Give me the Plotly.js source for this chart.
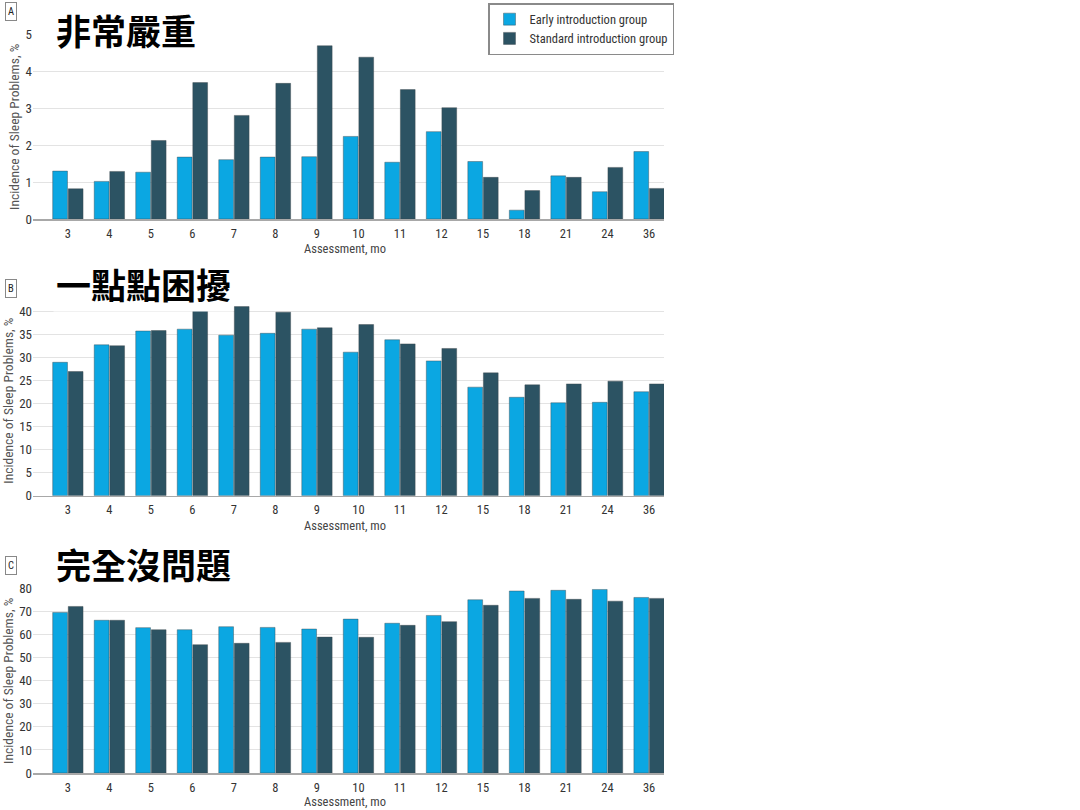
<!DOCTYPE html>
<html>
<head>
<meta charset="utf-8">
<script src="https://cdn.plot.ly/plotly-3.0.1.min.js"></script>
<style>html,body{margin:0;padding:0;background:#fff;}#chart{width:1080px;height:810px;}</style>
</head>
<body>
<div id="chart"></div>
<script>
// ---- data ----
const months = ['3','4','5','6','7','8','9','10','11','12','15','18','21','24','36'];
const seriesNames = ['Early introduction group', 'Standard introduction group'];
const panelTitles = ['非常嚴重', '一點點困擾', '完全沒問題'];
const panelLetters = ['A', 'B', 'C'];

const severeEarly    = [1.30, 1.02, 1.27, 1.68, 1.61, 1.68, 1.69, 2.24, 1.54, 2.37, 1.56, 0.24, 1.17, 0.74, 1.83];
const severeStandard = [0.82, 1.29, 2.13, 3.70, 2.81, 3.68, 4.70, 4.39, 3.51, 3.02, 1.13, 0.77, 1.13, 1.40, 0.83];

const smallEarly     = [29.0, 32.8, 35.8, 36.2, 34.9, 35.3, 36.2, 31.2, 33.9, 29.3, 23.6, 21.4, 20.2, 20.3, 22.6];
const smallStandard  = [27.0, 32.6, 35.9, 40.9, 41.1, 39.9, 36.5, 37.2, 33.0, 32.0, 26.7, 24.1, 24.3, 24.9, 24.3];

const noneEarly      = [69.7, 66.3, 63.1, 62.2, 63.5, 63.2, 62.5, 66.8, 65.0, 68.4, 75.2, 79.0, 79.3, 79.7, 76.2];
const noneStandard   = [72.3, 66.3, 62.2, 55.7, 56.3, 56.7, 59.0, 58.9, 64.1, 65.7, 72.8, 75.8, 75.4, 74.6, 75.8];

const yTitle = 'Incidence of Sleep Problems, %';
const xTitle = 'Assessment, mo';

// ---- styling / layout ----
const W = 1080, H = 810;
const colors = ['#0ba7e2', '#2c5363'];
const condensed = '"Liberation Sans Narrow", "Arial Narrow", "Roboto Condensed", "DejaVu Sans Condensed", sans-serif';
const cjk = '"Noto Sans CJK TC", "Noto Sans CJK SC", sans-serif';

const panels = [
  {early: severeEarly, standard: severeStandard, yr: [0, 5],    dt: 1,  px0: 219,   pxTop: 34.7,  xTitleY: 248.5},
  {early: smallEarly,  standard: smallStandard,  yr: [0, 41.3], dt: 5,  px0: 495.7, pxTop: 305.7, xTitleY: 525},
  {early: noneEarly,   standard: noneStandard,   yr: [0, 80],   dt: 10, px0: 773,   pxTop: 588.7, xTitleY: 801}
];
const titleY = [30, 283, 563];
const letterY = [11, 289, 565];

const xLeft = 33, xRight = 664;
const traces = [];
const layout = {
  width: W, height: H,
  margin: {l: 0, r: 0, t: 0, b: 0},
  paper_bgcolor: '#fff', plot_bgcolor: '#fff',
  barmode: 'group', bargap: 0.25, bargroupgap: 0.05,
  font: {family: condensed, color: '#333', size: 12},
  showlegend: true,
  legend: {
    x: 488 / W, y: 1 - 3 / H, xanchor: 'left', yanchor: 'top',
    bgcolor: '#fff', bordercolor: '#8a8a8a', borderwidth: 1.5,
    font: {family: condensed, size: 12.5, color: '#333'},
    tracegroupgap: 0, itemwidth: 30
  },
  annotations: []
};

panels.forEach((p, i) => {
  const sfx = i === 0 ? '' : String(i + 1);
  const xa = 'x' + sfx, ya = 'y' + sfx;
  [p.early, p.standard].forEach((vals, k) => {
    traces.push({
      type: 'bar', x: months, y: vals, name: seriesNames[k],
      xaxis: xa, yaxis: ya,
      marker: {color: colors[k], line: {color: 'rgba(60,70,75,0.7)', width: 0.6}},
      showlegend: i === 0, legendgroup: 'g' + k,
      hoverinfo: 'x+y+name'
    });
  });
  layout['xaxis' + sfx] = {
    domain: [xLeft / W, xRight / W],
    anchor: ya, type: 'category',
    range: [-0.84, 14.36],
    showline: true, linecolor: '#a8a8a8', linewidth: 1.5,
    ticks: '', showgrid: false, zeroline: false,
    ticklabelstandoff: 2,
    tickfont: {family: condensed, size: 12.5, color: '#333'}
  };
  layout['yaxis' + sfx] = {
    domain: [1 - p.px0 / H, 1 - p.pxTop / H],
    anchor: xa, range: p.yr, dtick: p.dt,
    showline: false, ticks: '', zeroline: false,
    showgrid: true, gridcolor: '#e3e3e3', gridwidth: 1,
    tickfont: {family: condensed, size: 13, color: '#333'},
    title: {text: yTitle, font: {family: condensed, size: 13.5, color: '#555'}, standoff: 2}
  };
  // x-axis title
  layout.annotations.push({
    xref: 'paper', yref: 'paper', x: 345 / W, y: 1 - p.xTitleY / H,
    xanchor: 'center', yanchor: 'middle', showarrow: false,
    text: xTitle,
    font: {family: condensed, size: 12.5, color: '#444'}
  });
  // big Chinese panel title
  layout.annotations.push({
    xref: 'paper', yref: 'paper', x: 53 / W, y: 1 - titleY[i] / H,
    xanchor: 'left', yanchor: 'middle', showarrow: false,
    text: '<b>' + panelTitles[i] + '</b>',
    font: {family: cjk, size: 35, color: '#000'},
    bgcolor: '#fff', borderpad: 2
  });
  // panel letter box
  layout.annotations.push({
    xref: 'paper', yref: 'paper', x: 10.5 / W, y: 1 - letterY[i] / H,
    xanchor: 'center', yanchor: 'middle', showarrow: false,
    text: panelLetters[i],
    font: {family: condensed, size: 10.5, color: '#222'},
    bgcolor: '#fff', bordercolor: '#888', borderwidth: 1, borderpad: 2
  });
});

Plotly.newPlot('chart', traces, layout, {displayModeBar: false, staticPlot: true});
</script>
</body>
</html>
